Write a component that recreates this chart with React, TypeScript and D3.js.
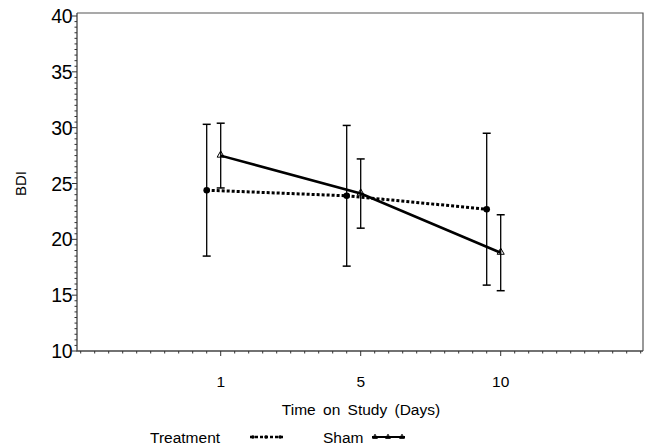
import { useEffect, useRef } from 'react';
import * as d3 from 'd3';

// Chart data
const days = ['1', '5', '10'];
const treatmentMean = [24.4, 23.9, 22.7];
const treatmentSD = [5.9, 6.3, 6.8];
const shamMean = [27.5, 24.1, 18.8];
const shamSD = [2.9, 3.1, 3.4];
const yTicks = [10, 15, 20, 25, 30, 35, 40];

const App = () => {
  const svgRef = useRef<SVGSVGElement>(null);

  useEffect(() => {
    const svg = d3.select(svgRef.current);
    svg.selectAll('*').remove();

    const width = 646;
    const height = 446;
    const font = 'Liberation Sans, Arial, sans-serif';

    svg.attr('width', width).attr('height', height);

    // frame bounds
    const left = 77, right = 643, top = 13, bottom = 351;

    // x: ordinal positions 1..3 with padding slots at 0 and 4
    const x = d3.scaleLinear().domain([0, 4]).range([80.7, 640.7]);
    const y = d3.scaleLinear().domain([10, 40]).range([351, 16]);

    svg.append('rect').attr('width', width).attr('height', height).attr('fill', '#fff');

    // frame
    svg.append('path')
      .attr('d', `M${left},${top}H${right}V${bottom}`)
      .attr('fill', 'none').attr('stroke', '#555').attr('stroke-width', 1.2);
    svg.append('path')
      .attr('d', `M${left},${top}V${bottom}H${right}`)
      .attr('fill', 'none').attr('stroke', '#444').attr('stroke-width', 1.3);

    // y ticks
    const yMinor = d3.range(10, 40.01, 0.5);
    svg.append('g').selectAll('line').data(yMinor).enter().append('line')
      .attr('x1', left).attr('x2', d => (d % 5 === 0 ? left - 5 : left - 2.5))
      .attr('y1', d => y(d)).attr('y2', d => y(d))
      .attr('stroke', '#333').attr('stroke-width', 1);

    svg.append('g').selectAll('text').data(yTicks).enter().append('text')
      .attr('x', left - 5).attr('y', d => y(d) + 7)
      .attr('text-anchor', 'end')
      .attr('font-family', font).attr('font-size', 19.5)
      .attr('letter-spacing', -0.5)
      .text(d => d);

    // x ticks
    const xMinor = d3.range(0, 41).map(i => i / 10);
    svg.append('g').selectAll('line').data(xMinor).enter().append('line')
      .attr('x1', d => x(d)).attr('x2', d => x(d))
      .attr('y1', bottom).attr('y2', (d, i) => (i % 10 === 0 && i > 0 && i < 40 ? bottom + 5 : bottom + 2.5))
      .attr('stroke', '#333').attr('stroke-width', 1);

    svg.append('g').selectAll('text').data(days).enter().append('text')
      .attr('x', (d, i) => x(i + 1)).attr('y', 387)
      .attr('text-anchor', 'middle')
      .attr('font-family', font).attr('font-size', 15.5)
      .text(d => d);

    // axis titles
    svg.append('text')
      .attr('x', 361).attr('y', 415)
      .attr('text-anchor', 'middle')
      .attr('font-family', font).attr('font-size', 15.5)
      .attr('word-spacing', 3)
      .text('Time on Study (Days)');

    svg.append('text')
      .attr('transform', `translate(26,${y(25)}) rotate(-90)`)
      .attr('text-anchor', 'middle')
      .attr('font-family', font).attr('font-size', 15)
      .text('BDI');

    const series = [
      { name: 'Treatment', mean: treatmentMean, sd: treatmentSD, offset: -0.1, dashed: true },
      { name: 'Sham', mean: shamMean, sd: shamSD, offset: 0, dashed: false },
    ];

    const triangle = d3.symbol().type(d3.symbolTriangle).size(22);

    series.forEach(s => {
      const pts = s.mean.map((m, i) => ({ x: x(i + 1 + s.offset), m, sd: s.sd[i] }));
      const g = svg.append('g');

      // error bars
      pts.forEach(p => {
        g.append('line')
          .attr('x1', p.x).attr('x2', p.x)
          .attr('y1', y(p.m + p.sd)).attr('y2', y(p.m - p.sd))
          .attr('stroke', '#000').attr('stroke-width', 1.3);
        [p.m + p.sd, p.m - p.sd].forEach(v => {
          g.append('line')
            .attr('x1', p.x - 4).attr('x2', p.x + 4)
            .attr('y1', y(v)).attr('y2', y(v))
            .attr('stroke', '#000').attr('stroke-width', 1.5);
        });
      });

      const line = d3.line<any>().x(d => d.x).y(d => y(d.m));
      g.append('path')
        .attr('d', line(pts))
        .attr('fill', 'none').attr('stroke', '#000')
        .attr('stroke-width', s.dashed ? 3 : 2.5)
        .attr('stroke-dasharray', s.dashed ? '3,2' : null);

      pts.forEach(p => {
        if (s.dashed) {
          g.append('circle').attr('cx', p.x).attr('cy', y(p.m)).attr('r', 3.3).attr('fill', '#000');
        } else {
          g.append('path')
            .attr('d', triangle())
            .attr('transform', `translate(${p.x},${y(p.m) - 0.5})`)
            .attr('fill', 'none').attr('stroke', '#000').attr('stroke-width', 1);
        }
      });
    });

    // legend
    const ly = 437;
    svg.append('text').attr('x', 150).attr('y', ly + 5.5)
      .attr('font-family', font).attr('font-size', 15.5).text('Treatment');
    svg.append('line').attr('x1', 250).attr('x2', 283).attr('y1', ly).attr('y2', ly)
      .attr('stroke', '#000').attr('stroke-width', 2.5).attr('stroke-dasharray', '3,2');
    [253, 266, 280].forEach(cx => {
      svg.append('circle').attr('cx', cx).attr('cy', ly).attr('r', 1.8).attr('fill', '#000');
    });

    svg.append('text').attr('x', 323).attr('y', ly + 5.5)
      .attr('font-family', font).attr('font-size', 15.5).text('Sham');
    svg.append('line').attr('x1', 372).attr('x2', 405).attr('y1', ly).attr('y2', ly)
      .attr('stroke', '#000').attr('stroke-width', 2);
    const smallTri = d3.symbol().type(d3.symbolTriangle).size(10);
    [375, 388, 402].forEach(cx => {
      svg.append('path').attr('d', smallTri()).attr('transform', `translate(${cx},${ly})`)
        .attr('fill', 'none').attr('stroke', '#000').attr('stroke-width', 1);
    });
  }, []);

  return <svg ref={svgRef} style={{ display: 'block', position: 'absolute', left: 0, top: 0 }}></svg>;
};

export default App;
